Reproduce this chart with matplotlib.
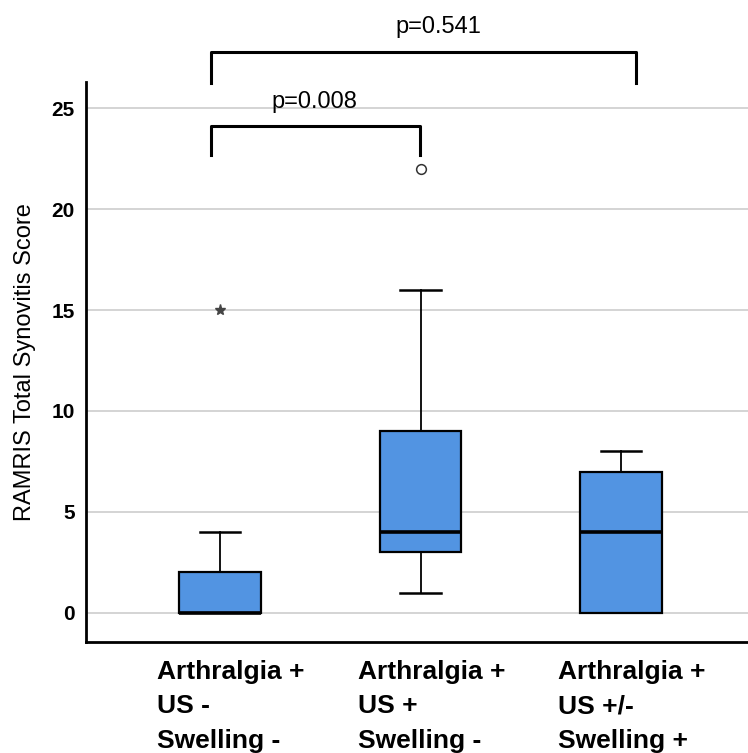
import matplotlib.pyplot as plt
from matplotlib.transforms import ScaledTranslation

plt.rcParams['font.family'] = ['Liberation Sans', 'DejaVu Sans']

groups = ['Arthralgia +\nUS -\nSwelling -',
          'Arthralgia +\nUS +\nSwelling -',
          'Arthralgia +\nUS +/-\nSwelling +']
whislo = [0, 1, 0]
q1 = [0, 3, 0]
med = [0, 4, 4]
q3 = [2, 9, 7]
whishi = [4, 16, 8]

# SPSS style: circle = outlier, star = extreme
outlier_x = [2]
outlier_y = [22]
extreme_x = [1]
extreme_y = [15]

pvals = ['p=0.008', 'p=0.541']

fig = plt.figure(figsize=(7.48, 7.53), dpi=100)
ax = fig.add_axes([0.115, 0.1475, 0.885, 0.744])

stats = []
for i in range(len(groups)):
    stats.append({'whislo': whislo[i], 'q1': q1[i], 'med': med[i],
                  'q3': q3[i], 'whishi': whishi[i], 'fliers': []})

bp = ax.bxp(stats, positions=[1, 2, 3], widths=0.405, patch_artist=True,
            showfliers=False,
            boxprops=dict(facecolor='#5294e2', edgecolor='black', linewidth=1.6),
            medianprops=dict(color='black', linewidth=2.6),
            whiskerprops=dict(color='black', linewidth=1.3),
            capprops=dict(color='black', linewidth=1.8),
            capwidths=0.2)
# no lower cap where the whisker has zero length
for i in range(len(groups)):
    if whislo[i] == q1[i]:
        bp['caps'][2 * i].set_visible(False)

ax.plot(outlier_x, outlier_y, 'o', mfc='white', mec='#333333', ms=7, mew=1.1)
ax.plot(extreme_x, extreme_y, '*', color='#444444', ms=8)

ax.set_xlim(0.332, 3.633)
ax.set_ylim(-1.44, 26.31)
ax.set_yticks([0, 5, 10, 15, 20, 25])
ax.yaxis.grid(True, color='#d4d4d4', linewidth=1.4)
ax.set_axisbelow(True)

ax.tick_params(axis='both', length=0)
ax.tick_params(axis='y', pad=8, labelsize=15)
for lab in ax.get_yticklabels():
    lab.set_fontweight('bold')

ax.set_xticks([1, 2, 3])
ax.set_xticklabels(groups, fontsize=19, fontweight='bold',
                   multialignment='left', linespacing=1.55)
ax.tick_params(axis='x', pad=13)
for lab in ax.get_xticklabels():
    lab.set_transform(lab.get_transform() + ScaledTranslation(0.11, 0, fig.dpi_scale_trans))

ax.set_ylabel('RAMRIS Total Synovitis Score', fontsize=17, labelpad=11)

for s in ['top', 'right']:
    ax.spines[s].set_visible(False)
for s in ['left', 'bottom']:
    ax.spines[s].set_linewidth(2)

# significance brackets
ax.plot([0.955, 0.955, 1.995, 1.995], [22.7, 24.13, 24.13, 22.7],
        color='black', lw=2.2, clip_on=False)
ax.text(1.47, 25.3, pvals[0], ha='center', va='center', fontsize=17)
ax.plot([0.955, 0.955, 3.075, 3.075], [26.26, 27.8, 27.8, 26.26],
        color='black', lw=2.2, clip_on=False)
ax.text(2.09, 29.04, pvals[1], ha='center', va='center', fontsize=17)

fig.savefig('out.png', dpi=100)
